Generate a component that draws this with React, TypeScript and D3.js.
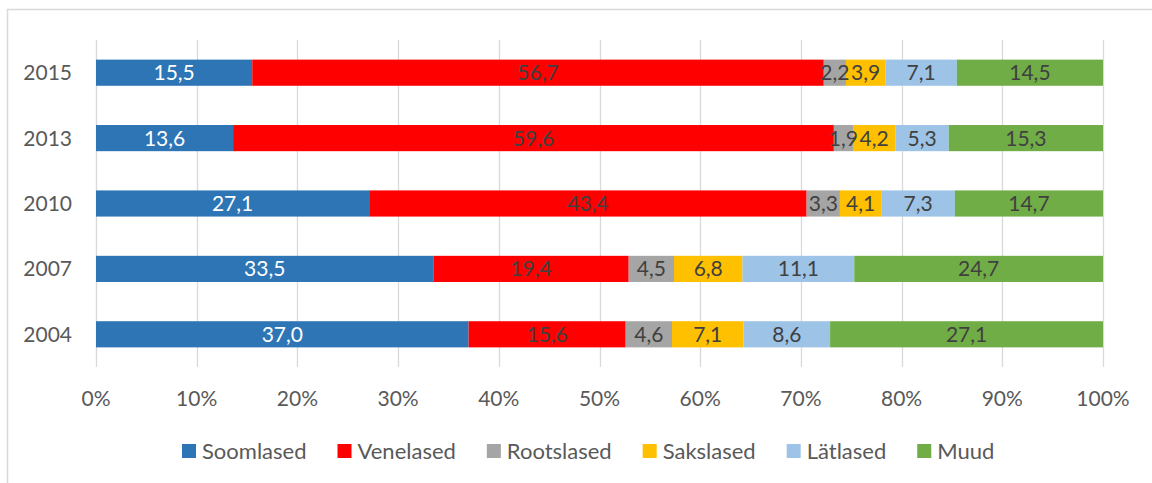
import React, { useEffect, useRef } from "react";
import * as d3 from "d3";

const years = ["2015", "2013", "2010", "2007", "2004"];
const seriesNames = ["Soomlased", "Venelased", "Rootslased", "Sakslased", "Lätlased", "Muud"];
const seriesColors = ["#2E75B6", "#FF0000", "#A5A5A5", "#FFC000", "#9DC3E6", "#70AD47"];
const soomlased = [15.5, 13.6, 27.1, 33.5, 37.0];
const venelased = [56.7, 59.6, 43.4, 19.4, 15.6];
const rootslased = [2.2, 1.9, 3.3, 4.5, 4.6];
const sakslased = [3.9, 4.2, 4.1, 6.8, 7.1];
const latlased = [7.1, 5.3, 7.3, 11.1, 8.6];
const muud = [14.5, 15.3, 14.7, 24.7, 27.1];
const xTicks = [0, 0.1, 0.2, 0.3, 0.4, 0.5, 0.6, 0.7, 0.8, 0.9, 1.0];

const FONT = "Lato, sans-serif";
const FS = 21;

export default function App() {
  const ref = useRef<SVGSVGElement>(null);
  useEffect(() => {
    document.body.style.margin = "0";
    const svg = d3.select(ref.current!);
    svg.selectAll("*").remove();
    const W = 1152, H = 483;
    svg.append("rect").attr("x", 0).attr("y", 0).attr("width", W).attr("height", H).attr("fill", "#fff");
    svg.append("rect").attr("x", 7.5).attr("y", 9.5).attr("width", 1200).attr("height", 500)
      .attr("fill", "none").attr("stroke", "#D9D9D9").attr("stroke-width", 1.5);

    const values = [soomlased, venelased, rootslased, sakslased, latlased, muud];
    const rows = years.map((y, i) => {
      const r: any = { year: y };
      seriesNames.forEach((s, j) => (r[s] = values[j][i]));
      return r;
    });
    const stacked = d3.stack().keys(seriesNames).offset(d3.stackOffsetExpand)(rows);

    const x = d3.scaleLinear().domain([0, 1]).range([96, 1103]);
    const y = d3.scaleBand().domain(years).range([40, 367]).paddingInner(0.6).paddingOuter(0.3);

    // gridlines
    svg.append("g").selectAll("line").data(xTicks).join("line")
      .attr("x1", d => Math.round(x(d)) + 0.5).attr("x2", d => Math.round(x(d)) + 0.5)
      .attr("y1", 40).attr("y2", 367).attr("stroke", "#D9D9D9").attr("stroke-width", 1.3);

    // bars
    const g = svg.append("g");
    stacked.forEach((layer, j) => {
      g.append("g").selectAll("rect").data(layer).join("rect")
        .attr("x", d => x(d[0])).attr("width", d => x(d[1]) - x(d[0]))
        .attr("y", d => y((d.data as any).year)!).attr("height", y.bandwidth())
        .attr("fill", seriesColors[j]);
    });
    stacked.forEach((layer, j) => {
      g.append("g").selectAll("text").data(layer).join("text")
        .attr("x", d => (x(d[0]) + x(d[1])) / 2)
        .attr("y", d => y((d.data as any).year)! + y.bandwidth() / 2)
        .attr("dy", "0.36em").attr("text-anchor", "middle")
        .attr("font-family", FONT).attr("font-size", FS)
        .attr("fill", j === 0 ? "#FFFFFF" : "#404040")
        .text((d: any) => (d.data[seriesNames[j]] as number).toFixed(1).replace(".", ","));
    });

    // year labels
    svg.append("g").selectAll("text").data(years).join("text")
      .attr("x", 72).attr("y", d => y(d)! + y.bandwidth() / 2).attr("dy", "0.36em")
      .attr("text-anchor", "end").attr("font-family", FONT).attr("font-size", FS)
      .attr("fill", "#595959").text(d => d);

    // x tick labels
    svg.append("g").selectAll("text").data(xTicks).join("text")
      .attr("x", d => x(d)).attr("y", 398).attr("dy", "0.36em")
      .attr("text-anchor", "middle").attr("font-family", FONT).attr("font-size", FS)
      .attr("fill", "#595959").text(d => d3.format(".0%")(d));

    // legend
    const lg = svg.append("g");
    let cx = 182;
    seriesNames.forEach((s, j) => {
      lg.append("rect").attr("x", cx).attr("y", 444).attr("width", 14).attr("height", 14).attr("fill", seriesColors[j]);
      const t = lg.append("text").attr("x", cx + 20).attr("y", 451).attr("dy", "0.36em")
        .attr("font-family", FONT).attr("font-size", 22).attr("fill", "#595959").text(s);
      const w = (t.node() as SVGTextElement).getComputedTextLength();
      cx += 20 + w + 31;
    });
  }, []);
  return <svg ref={ref} width={1152} height={483} style={{ display: "block" }} />;
}
